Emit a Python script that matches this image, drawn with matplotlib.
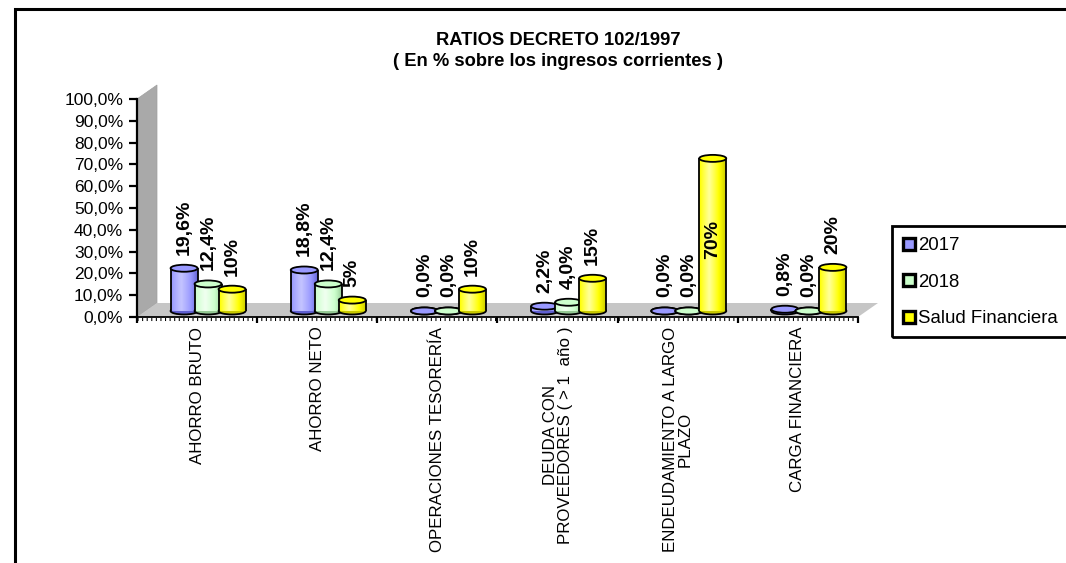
import numpy as np
import matplotlib
matplotlib.use("Agg")
import matplotlib.pyplot as plt
from matplotlib.patches import Ellipse, Polygon, Rectangle
from matplotlib.lines import Line2D
from matplotlib.colors import LinearSegmentedColormap
from matplotlib.ticker import FixedLocator, FuncFormatter
import matplotlib.transforms as mtransforms

plt.rcParams["font.family"] = ["Liberation Sans", "DejaVu Sans"]

# ---- data -------------------------------------------------------------
categories = [
    "AHORRO BRUTO",
    "AHORRO NETO",
    "OPERACIONES TESORERÍA",
    "DEUDA CON\nPROVEEDORES ( > 1  año )",
    "ENDEUDAMIENTO A LARGO\nPLAZO",
    "CARGA FINANCIERA",
]
series_names = ["2017", "2018", "Salud Financiera"]
values_2017 = [19.6, 18.8, 0.0, 2.2, 0.0, 0.8]
values_2018 = [12.4, 12.4, 0.0, 4.0, 0.0, 0.0]
values_salud = [10, 5, 10, 15, 70, 20]
y_ticks = [0, 10, 20, 30, 40, 50, 60, 70, 80, 90, 100]

# ---- styling ----------------------------------------------------------
face = ["#9999ff", "#ccffcc", "#ffff00"]
shade_dark = ["#5f5fd0", "#94c894", "#c8c800"]
shade_light = ["#c4c4ff", "#f0fff0", "#ffff9a"]
label_fmt = [lambda v: f"{v:.1f}%".replace(".", ","),
             lambda v: f"{v:.1f}%".replace(".", ","),
             lambda v: f"{v:.0f}%"]

W, H = 1066, 563
fig = plt.figure(figsize=(W / 100, H / 100), dpi=100)
fig.patch.set_facecolor("white")

# outer chart border (runs off the right and bottom edges)
fig.add_artist(Rectangle((14.5 / W, -0.2), 1.5, 1 - 8.5 / H + 0.2,
                         transform=fig.transFigure, fill=False,
                         lw=2.2, ec="black"))

ax_l, ax_r, ax_t, ax_b = 137, 858, 99, 317
ax = fig.add_axes([ax_l / W, 1 - ax_b / H, (ax_r - ax_l) / W, (ax_b - ax_t) / H])
ax.set_xlim(0, len(categories))
ax.set_ylim(0, 100)
ax.set_facecolor("none")
for s in ("top", "right"):
    ax.spines[s].set_visible(False)
ax.spines["left"].set_linewidth(1.6)
ax.spines["bottom"].set_linewidth(1.3)

# depth of the 3-D box, in data units
px_x = (ax_r - ax_l) / len(categories)
px_y = (ax_b - ax_t) / 100.0
dx = 20 / px_x
dy = 14 / px_y
n = len(categories)

# side wall and floor
wall = Polygon([(0, 0), (0, 100), (dx, 100 + dy), (dx, dy)], closed=True,
               fc="#a9a9a9", ec="#a0a0a0", lw=0.5, zorder=1, clip_on=False)
ax.add_patch(wall)
ax.add_patch(Polygon([(0, 0), (n, 0), (n + dx, dy), (dx, dy)], closed=True,
                     fc="#c6c6c6", ec="none", zorder=1, clip_on=False))

# ---- cylinders ----------------------------------------------------------
base = dy * 0.43
bar_w = 27 / px_x
offsets = [-13 / px_x, 11 / px_x, 35 / px_x]
eh = 7 / px_y
grad_x = np.linspace(0, 1, 64)
profile = np.clip(1 - np.abs(grad_x - 0.38) / 0.62, 0, 1) ** 0.8
grad = profile[np.newaxis, :]

all_values = [values_2017, values_2018, values_salud]
centers = np.arange(n) + 0.5

for si, vals in enumerate(all_values):
    cmap = LinearSegmentedColormap.from_list(
        f"cyl{si}", [shade_dark[si], face[si], shade_light[si]])
    z = 3 + si
    xs = centers + offsets[si]
    bars = ax.bar(xs, vals, width=bar_w, bottom=base, color=face[si],
                  edgecolor="none", zorder=z, label=series_names[si])
    for rect, v in zip(bars, vals):
        x0, w = rect.get_x(), rect.get_width()
        y0, h = rect.get_y(), rect.get_height()
        cx = x0 + w / 2
        ax.add_patch(Ellipse((cx, y0), w, eh, fc=shade_dark[si], ec="black",
                             lw=1.3, zorder=z - 0.05))
        if h > 0:
            ax.imshow(grad, extent=(x0, x0 + w, y0, y0 + h), cmap=cmap,
                      aspect="auto", interpolation="bilinear", zorder=z + 0.1)
            ax.vlines([x0, x0 + w], y0, y0 + h, color="black", lw=1.3,
                      zorder=z + 0.2)
        ax.add_patch(Ellipse((cx, y0 + h), w, eh, fc=face[si], ec="black",
                             lw=1.3, zorder=z + 0.3))
        txt = label_fmt[si](v)
        # labels that would run past the top of the plot go inside the bar
        if y0 + h + 6.2 + 25 > 100:
            ax.text(cx, y0 + h * 0.47, txt, rotation=90, ha="center",
                    va="center", fontsize=14, fontweight="bold", zorder=10)
        else:
            ax.text(cx, y0 + h + 6.2, txt, rotation=90, ha="center",
                    va="bottom", fontsize=14, fontweight="bold", zorder=10)

ax.set_xlim(0, n)
ax.set_ylim(0, 100)

# ---- axes ticks -----------------------------------------------------------
ax.yaxis.set_major_locator(FixedLocator(y_ticks))
ax.yaxis.set_major_formatter(FuncFormatter(lambda v, p: f"{v:.1f}%".replace(".", ",")))
ax.tick_params(axis="y", which="major", direction="out", length=6, width=1.6,
               labelsize=12.5, pad=4)

ax.xaxis.set_major_locator(FixedLocator(np.arange(n + 1)))
ax.xaxis.set_major_formatter(FuncFormatter(lambda v, p: ""))
ax.xaxis.set_minor_locator(FixedLocator(centers))
ax.xaxis.set_minor_formatter(FuncFormatter(lambda v, p: categories[int(v)]))
ax.tick_params(axis="x", which="major", direction="out", length=4, width=1.6)
ax.tick_params(axis="x", which="minor", length=0, pad=7, labelsize=12.2)
for lab in ax.xaxis.get_minorticklabels():
    lab.set_rotation(90)
    lab.set_ha("center")
    lab.set_va("top")
    lab.set_multialignment("center")
    lab.set_linespacing(1.0)

# fine ruler marks along the category axis
ruler = mtransforms.offset_copy(ax.transData, fig=fig, x=0, y=-2.2, units="dots")
ax.plot([0, n], [0, 0], transform=ruler, color="black", lw=2.2,
        linestyle=(0, (0.35, 1.15)), clip_on=False, zorder=2)

# ---- title --------------------------------------------------------------
fig.text(558 / W, 1 - 51 / H,
         "RATIOS DECRETO 102/1997\n( En % sobre los ingresos corrientes )",
         ha="center", va="center", fontsize=13.2, fontweight="bold",
         multialignment="center", linespacing=1.3)

# ---- legend ---------------------------------------------------------------
fig.add_artist(Rectangle((892 / W, 1 - 337 / H), 0.3, (337 - 226) / H,
                         transform=fig.transFigure, fill=False, lw=2,
                         ec="black"))
handles = [Line2D([], [], linestyle="none", marker="s", markersize=8,
                  markerfacecolor=face[i], markeredgecolor="black",
                  markeredgewidth=2.4) for i in range(3)]
fig.legend(handles, series_names, loc="upper left",
           bbox_to_anchor=(902 / W, 1 - 237 / H), frameon=False,
           fontsize=13.4, handlelength=0.7, handletextpad=0.15,
           labelspacing=1.05, borderpad=0, borderaxespad=0)

fig.savefig("out.png", dpi=100, facecolor="white")
